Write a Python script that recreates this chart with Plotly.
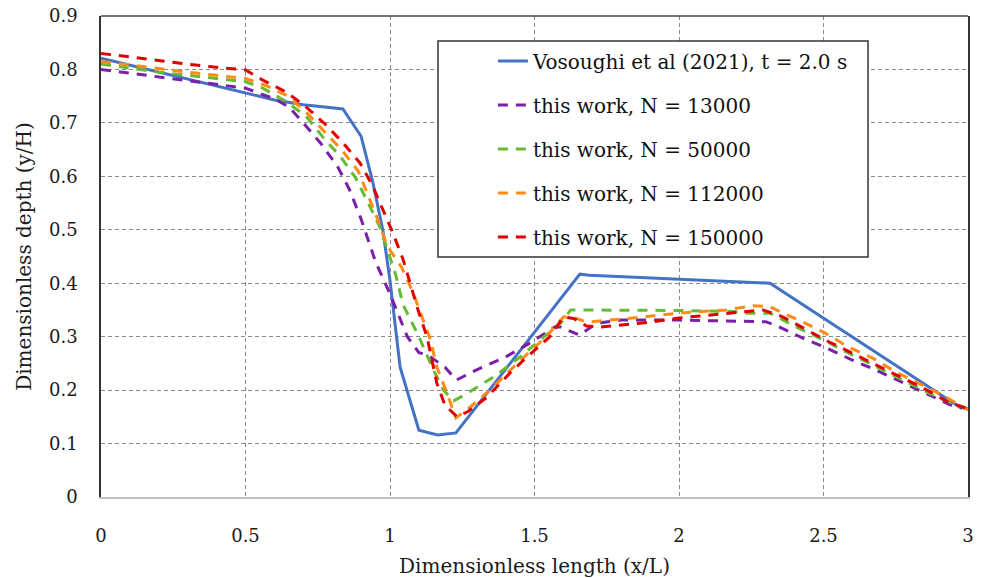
import plotly.graph_objects as go

# ---------------- data ----------------
vos_x = [0, 0.1, 0.2, 0.3, 0.4, 0.5, 0.6, 0.7, 0.837, 0.9, 0.94, 0.975, 1.0, 1.035, 1.1, 1.165, 1.228, 1.657, 1.69, 2.315, 2.98]
vos_y = [0.821, 0.808, 0.795, 0.782, 0.768, 0.755, 0.743, 0.734, 0.726, 0.675, 0.59, 0.50, 0.405, 0.243, 0.125, 0.116, 0.12, 0.417, 0.415, 0.40, 0.165]

n13_x = [0, 0.1, 0.2, 0.3, 0.4, 0.5, 0.6, 0.65, 0.7, 0.76, 0.82, 0.86, 0.9, 0.95, 1.0, 1.06, 1.10, 1.13, 1.19, 1.23, 1.30, 1.40, 1.49, 1.57, 1.59, 1.655, 1.715, 1.8, 2.0, 2.3, 2.34, 2.43, 2.51, 2.6, 2.68, 2.77, 2.85, 2.94, 3.0]
n13_y = [0.80, 0.793, 0.786, 0.779, 0.772, 0.765, 0.745, 0.73, 0.70, 0.662, 0.617, 0.575, 0.52, 0.44, 0.38, 0.30, 0.27, 0.266, 0.243, 0.219, 0.238, 0.262, 0.29, 0.318, 0.318, 0.303, 0.325, 0.331, 0.331, 0.328, 0.32, 0.297, 0.279, 0.256, 0.238, 0.215, 0.196, 0.172, 0.165]

n50_x = [0, 0.1, 0.2, 0.3, 0.4, 0.5, 0.56, 0.64, 0.71, 0.77, 0.83, 0.88, 0.92, 0.965, 0.993, 1.02, 1.045, 1.10, 1.15, 1.185, 1.22, 1.255, 1.36, 1.45, 1.52, 1.59, 1.625, 1.8, 2.0, 2.19, 2.235, 2.315, 2.36, 2.41, 2.5, 2.58, 2.66, 2.74, 2.82, 2.90, 3.0]
n50_y = [0.81, 0.802, 0.795, 0.789, 0.783, 0.777, 0.765, 0.74, 0.712, 0.672, 0.636, 0.598, 0.555, 0.505, 0.46, 0.415, 0.36, 0.30, 0.238, 0.20, 0.18, 0.19, 0.225, 0.262, 0.294, 0.325, 0.35, 0.35, 0.349, 0.347, 0.344, 0.344, 0.331, 0.317, 0.294, 0.271, 0.25, 0.228, 0.206, 0.185, 0.165]

n112_x = [0, 0.1, 0.2, 0.3, 0.4, 0.5, 0.57, 0.64, 0.71, 0.77, 0.835, 0.89, 0.925, 0.957, 0.99, 1.04, 1.08, 1.11, 1.14, 1.162, 1.197, 1.228, 1.277, 1.346, 1.44, 1.54, 1.6, 1.633, 1.68, 1.84, 2.0, 2.165, 2.256, 2.315, 2.36, 2.43, 2.505, 2.585, 2.67, 2.75, 2.83, 2.91, 3.0]
n112_y = [0.815, 0.808, 0.801, 0.795, 0.789, 0.783, 0.77, 0.752, 0.72, 0.685, 0.648, 0.61, 0.562, 0.52, 0.47, 0.43, 0.382, 0.337, 0.294, 0.243, 0.195, 0.148, 0.168, 0.2, 0.25, 0.30, 0.337, 0.337, 0.327, 0.335, 0.344, 0.35, 0.358, 0.356, 0.344, 0.327, 0.307, 0.281, 0.26, 0.234, 0.213, 0.191, 0.163]

n150_x = [0, 0.1, 0.2, 0.3, 0.4, 0.5, 0.56, 0.64, 0.705, 0.775, 0.837, 0.896, 0.94, 0.976, 1.01, 1.045, 1.07, 1.097, 1.128, 1.145, 1.162, 1.19, 1.232, 1.27, 1.336, 1.415, 1.47, 1.553, 1.60, 1.635, 1.68, 1.73, 1.9, 2.0, 2.165, 2.29, 2.355, 2.447, 2.52, 2.60, 2.685, 2.765, 2.845, 2.93, 3.0]
n150_y = [0.83, 0.823, 0.817, 0.81, 0.804, 0.799, 0.78, 0.758, 0.732, 0.698, 0.663, 0.625, 0.582, 0.537, 0.494, 0.445, 0.40, 0.35, 0.30, 0.256, 0.213, 0.172, 0.15, 0.16, 0.187, 0.232, 0.26, 0.30, 0.337, 0.334, 0.32, 0.318, 0.327, 0.335, 0.344, 0.35, 0.338, 0.312, 0.29, 0.269, 0.247, 0.225, 0.204, 0.178, 0.165]

names = ["Vosoughi et al (2021), t = 2.0 s", "this work, N = 13000", "this work, N = 50000",
         "this work, N = 112000", "this work, N = 150000"]
colors = ["#4472C4", "#7A1FA8", "#66BB33", "#FF8A14", "#E00000"]

x_ticks = [0, 0.5, 1, 1.5, 2, 2.5, 3]
x_tick_text = ["0", "0.5", "1", "1.5", "2", "2.5", "3"]
y_ticks = [0, 0.1, 0.2, 0.3, 0.4, 0.5, 0.6, 0.7, 0.8, 0.9]
y_tick_text = ["0", "0.1", "0.2", "0.3", "0.4", "0.5", "0.6", "0.7", "0.8", "0.9"]

series = [(vos_x, vos_y), (n13_x, n13_y), (n50_x, n50_y), (n112_x, n112_y), (n150_x, n150_y)]

FONT = "DejaVu Serif"

fig = go.Figure()
for i, ((xs, ys), nm, c) in enumerate(zip(series, names, colors)):
    fig.add_trace(go.Scatter(
        x=xs, y=ys, mode="lines", name=nm, legendgroup=str(i),
        line=dict(color=c, width=3, dash="solid" if i == 0 else "10px,8px"),
    ))

fig.update_layout(
    width=983, height=578,
    margin=dict(l=101, r=15, t=16, b=81),
    paper_bgcolor="white", plot_bgcolor="white",
    font=dict(family=FONT, size=18, color="#1a1a1a"),
    showlegend=True,
    legend=dict(
        x=0.452, y=0.947, xanchor="left", yanchor="top",
        bgcolor="rgba(0,0,0,0)", borderwidth=0,
        font=dict(family=FONT, size=20, color="#111"),
        traceorder="grouped", tracegroupgap=15,
    ),
    shapes=[
        dict(type="rect", xref="paper", yref="paper", x0=0.3887, x1=0.8847, y0=0.499, y1=0.948,
             line=dict(color="#333", width=1.5), fillcolor="white", layer="above"),
        dict(type="line", xref="paper", yref="paper", x0=0, x1=1, y0=1, y1=1,
             line=dict(color="#444", width=1.5), layer="above"),
    ],
)

fig.update_xaxes(
    range=[0, 3], tickvals=x_ticks, ticktext=x_tick_text, automargin=False,
    showgrid=True, gridcolor="#8a8a8a", gridwidth=1, griddash="4px,3px",
    zeroline=False, showline=True, linecolor="#c0c0c0", linewidth=1.5,
    ticks="", ticklabelstandoff=22,
    tickfont=dict(family=FONT, size=18),
    title=dict(text="Dimensionless length (x/L)", font=dict(family=FONT, size=20), standoff=15),
)
fig.update_yaxes(
    range=[0, 0.9], tickvals=y_ticks, ticktext=y_tick_text, automargin=False,
    showgrid=True, gridcolor="#8a8a8a", gridwidth=1, griddash="4px,3px",
    zeroline=False, showline=True, linecolor="#333", linewidth=1.5, mirror=True,
    ticks="", ticklabelstandoff=18,
    tickfont=dict(family=FONT, size=18),
    title=dict(text="Dimensionless depth (y/H)", font=dict(family=FONT, size=20), standoff=12),
)

fig.write_html("out.html")
